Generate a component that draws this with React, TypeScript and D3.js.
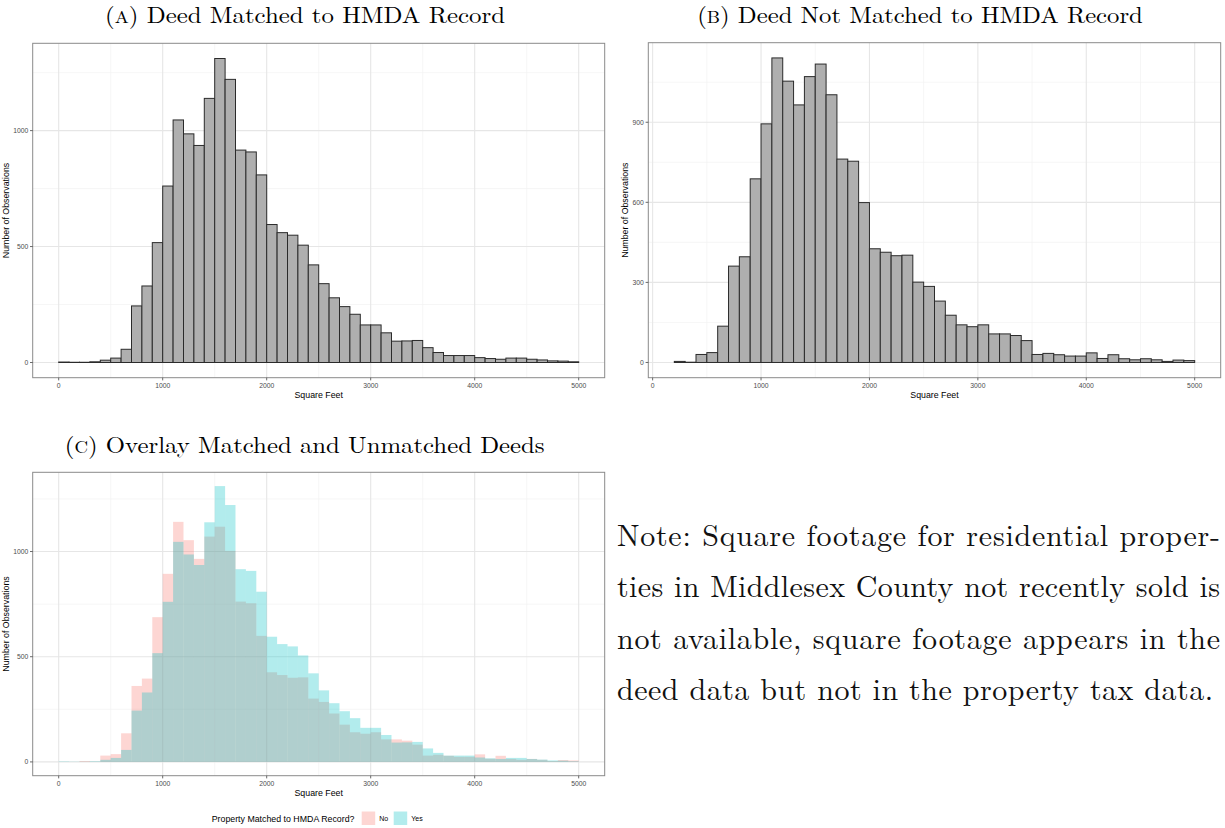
import React, { useLayoutEffect, useRef, useState } from "react";
import * as d3 from "d3";

// ---------- data ----------
const binWidth = 100;
const matchedStart = 0;
const matchedCounts = [
  2, 1, 1, 3, 10, 19, 57, 244, 330, 517,
  761, 1046, 986, 936, 1139, 1311, 1221, 916, 908, 809,
  595, 560, 549, 506, 421, 340, 279, 241, 208, 162,
  162, 128, 92, 93, 95, 64, 43, 30, 30, 30,
  21, 17, 14, 19, 19, 14, 11, 7, 6, 3,
];
const unmatchedStart = 200;
const unmatchedCounts = [
  4, 1, 30, 37, 136, 361, 396, 688, 894, 1141,
  1054, 965, 1071, 1118, 1003, 762, 754, 599, 426, 413,
  400, 402, 301, 285, 230, 177, 141, 134, 141, 107,
  107, 101, 82, 30, 34, 29, 24, 24, 36, 15,
  29, 14, 10, 14, 10, 4, 9, 7,
];
const xTicks = [0, 1000, 2000, 3000, 4000, 5000];
const yTicksMatched = [0, 500, 1000];
const yTicksUnmatched = [0, 300, 600, 900];
const titleLetters = ["A", "B", "C"];
const titleTexts = [
  "Deed Matched to HMDA Record",
  "Deed Not Matched to HMDA Record",
  "Overlay Matched and Unmatched Deeds",
];
const xAxisTitle = "Square Feet";
const yAxisTitle = "Number of Observations";
const legendTitle = "Property Matched to HMDA Record?";
const legendLabels = ["No", "Yes"];
const noteLines = [
  "Note: Square footage for residential proper-",
  "ties in Middlesex County not recently sold is",
  "not available, square footage appears in the",
  "deed data but not in the property tax data.",
];

// ---------- styles ----------
const SANS = "'Liberation Sans', Arial, Helvetica, sans-serif";
const SERIF = "'Latin Modern Roman', 'CMU Serif', 'Liberation Serif', 'Times New Roman', serif";
const PINK = "#F8766D";
const TEAL = "#00BFC4";
const ALPHA = 0.3;

type Bin = { x0: number; x1: number; n: number };
const toBins = (start: number, counts: number[]): Bin[] =>
  counts.map((n, i) => ({ x0: start + i * binWidth, x1: start + (i + 1) * binWidth, n }));

type Series = { bins: Bin[]; fill: string; stroke?: string; opacity: number };
type Box = { left: number; right: number; top: number; bottom: number };

function minorBreaks(major: number[], domain: [number, number]) {
  const step = major[1] - major[0];
  const ext = [major[0] - step, ...major, major[major.length - 1] + step];
  const out: number[] = [];
  for (let i = 0; i < ext.length - 1; i++) {
    const m = (ext[i] + ext[i + 1]) / 2;
    if (m >= domain[0] && m <= domain[1]) out.push(m);
  }
  return out;
}

function Panel({ box, series, yTicks, yTitleX }: { box: Box; series: Series[]; yTicks: number[]; yTitleX: number }) {
  const allBins = series.flatMap((s) => s.bins);
  const xmin = d3.min(allBins, (b) => b.x0)!;
  const xmax = d3.max(allBins, (b) => b.x1)!;
  const ymax = d3.max(allBins, (b) => b.n)!;
  const xe = (xmax - xmin) * 0.05;
  const ye = ymax * 0.05;
  const xDom: [number, number] = [xmin - xe, xmax + xe];
  const yDom: [number, number] = [-ye, ymax + ye];
  const x = d3.scaleLinear().domain(xDom).range([box.left, box.right]);
  const y = d3.scaleLinear().domain(yDom).range([box.bottom, box.top]);
  const xMinor = minorBreaks(xTicks, xDom);
  const yMinor = minorBreaks(yTicks, yDom);
  const cx = (box.left + box.right) / 2;
  const cy = (box.top + box.bottom) / 2;
  return (
    <g>
      <rect x={box.left} y={box.top} width={box.right - box.left} height={box.bottom - box.top} fill="#fff" />
      {yMinor.map((v) => (
        <line key={"ym" + v} x1={box.left} x2={box.right} y1={y(v)} y2={y(v)} stroke="#F2F2F2" strokeWidth={0.7} />
      ))}
      {xMinor.map((v) => (
        <line key={"xm" + v} y1={box.top} y2={box.bottom} x1={x(v)} x2={x(v)} stroke="#F2F2F2" strokeWidth={0.7} />
      ))}
      {yTicks.map((v) => (
        <line key={"yM" + v} x1={box.left} x2={box.right} y1={y(v)} y2={y(v)} stroke="#E6E6E6" strokeWidth={1.1} />
      ))}
      {xTicks.map((v) => (
        <line key={"xM" + v} y1={box.top} y2={box.bottom} x1={x(v)} x2={x(v)} stroke="#E6E6E6" strokeWidth={1.1} />
      ))}
      {series.map((s, si) => (
        <g key={si} fillOpacity={s.opacity}>
          {s.bins.map((b, i) => (
            <rect
              key={i}
              x={x(b.x0)}
              y={y(b.n)}
              width={x(b.x1) - x(b.x0)}
              height={Math.max(0, y(0) - y(b.n))}
              fill={s.fill}
              stroke={s.stroke ?? "none"}
              strokeWidth={s.stroke ? 1 : 0}
            />
          ))}
        </g>
      ))}
      <rect x={box.left} y={box.top} width={box.right - box.left} height={box.bottom - box.top} fill="none" stroke="#8a8a8a" strokeWidth={1} />
      {xTicks.map((v) => (
        <g key={"xt" + v}>
          <line x1={x(v)} x2={x(v)} y1={box.bottom} y2={box.bottom + 2.7} stroke="#444" strokeWidth={0.8} />
          <text x={x(v)} y={box.bottom + 10.3} textAnchor="middle" fontFamily={SANS} fontSize={6.8} fill="#4D4D4D">
            {v}
          </text>
        </g>
      ))}
      {yTicks.map((v) => (
        <g key={"yt" + v}>
          <line x1={box.left - 2.7} x2={box.left} y1={y(v)} y2={y(v)} stroke="#444" strokeWidth={0.8} />
          <text x={box.left - 4.4} y={y(v) + 2.4} textAnchor="end" fontFamily={SANS} fontSize={6.8} fill="#4D4D4D">
            {v}
          </text>
        </g>
      ))}
      <text x={cx} y={box.bottom + 20.5} textAnchor="middle" fontFamily={SANS} fontSize={8.8} fill="#000">
        {xAxisTitle}
      </text>
      <text
        transform={`translate(${yTitleX},${cy}) rotate(-90)`}
        textAnchor="middle"
        fontFamily={SANS}
        fontSize={8.8}
        fill="#000"
      >
        {yAxisTitle}
      </text>
    </g>
  );
}

function Title({ cx, y, width, letter, text }: { cx: number; y: number; width: number; letter: string; text: string }) {
  const ref = useRef<SVGTextElement>(null);
  const [sx, setSx] = useState(1);
  useLayoutEffect(() => {
    if (ref.current) {
      const w = ref.current.getComputedTextLength();
      if (w > 0) setSx(width / w);
    }
  }, [width]);
  return (
    <g transform={`translate(${cx},${y}) scale(${sx},1)`}>
      <text ref={ref} x={0} y={0} textAnchor="middle" fontFamily={SERIF} fontSize={22.5} fill="#000">
        (<tspan fontSize={17}>{letter}</tspan>) {text}
      </text>
    </g>
  );
}

export default function App() {
  const matchedBins = toBins(matchedStart, matchedCounts);
  const unmatchedBins = toBins(unmatchedStart, unmatchedCounts);
  const boxA: Box = { left: 32.7, right: 604.7, top: 43.3, bottom: 377.7 };
  const boxB: Box = { left: 648.3, right: 1220.7, top: 42.7, bottom: 377.7 };
  const boxC: Box = { left: 32.7, right: 604.7, top: 472.3, bottom: 775.7 };
  const gray = "#AFAFAF";
  const outline = "#2b2b2b";
  return (
    <svg width={1225} height={828} style={{ position: "absolute", left: 0, top: 0, background: "#fff" }}>
      <rect width={1225} height={828} fill="#fff" />
      <Title cx={305} y={23.2} width={400} letter={titleLetters[0]} text={titleTexts[0]} />
      <Title cx={920} y={23.2} width={446} letter={titleLetters[1]} text={titleTexts[1]} />
      <Title cx={304.7} y={453} width={480} letter={titleLetters[2]} text={titleTexts[2]} />
      <Panel box={boxA} series={[{ bins: matchedBins, fill: gray, stroke: outline, opacity: 1 }]} yTicks={yTicksMatched} yTitleX={9} />
      <Panel box={boxB} series={[{ bins: unmatchedBins, fill: gray, stroke: outline, opacity: 1 }]} yTicks={yTicksUnmatched} yTitleX={627.5} />
      <Panel
        box={boxC}
        series={[
          { bins: unmatchedBins, fill: PINK, opacity: ALPHA },
          { bins: matchedBins, fill: TEAL, opacity: ALPHA },
        ]}
        yTicks={yTicksMatched}
        yTitleX={9}
      />
      {/* legend */}
      <g>
        <text x={211.7} y={822} fontFamily={SANS} fontSize={8.8} fill="#000">
          {legendTitle}
        </text>
        {legendLabels.map((lab, i) => {
          const kx = 361.7 + i * 32;
          return (
            <g key={lab}>
              <rect x={kx} y={811.5} width={13.5} height={13.5} fill={i === 0 ? PINK : TEAL} fillOpacity={ALPHA} />
              <text x={kx + 17.6} y={821.3} fontFamily={SANS} fontSize={7} fill="#000">
                {lab}
              </text>
            </g>
          );
        })}
      </g>
      {/* note */}
      {noteLines.map((line, i) => (
        <text
          key={i}
          x={617}
          y={545.5 + i * 51.6}
          fontFamily={SERIF}
          fontSize={30}
          fill="#111"
          textLength={i < 3 ? 603 : 596}
          lengthAdjust="spacing"
        >
          {line}
        </text>
      ))}
    </svg>
  );
}
